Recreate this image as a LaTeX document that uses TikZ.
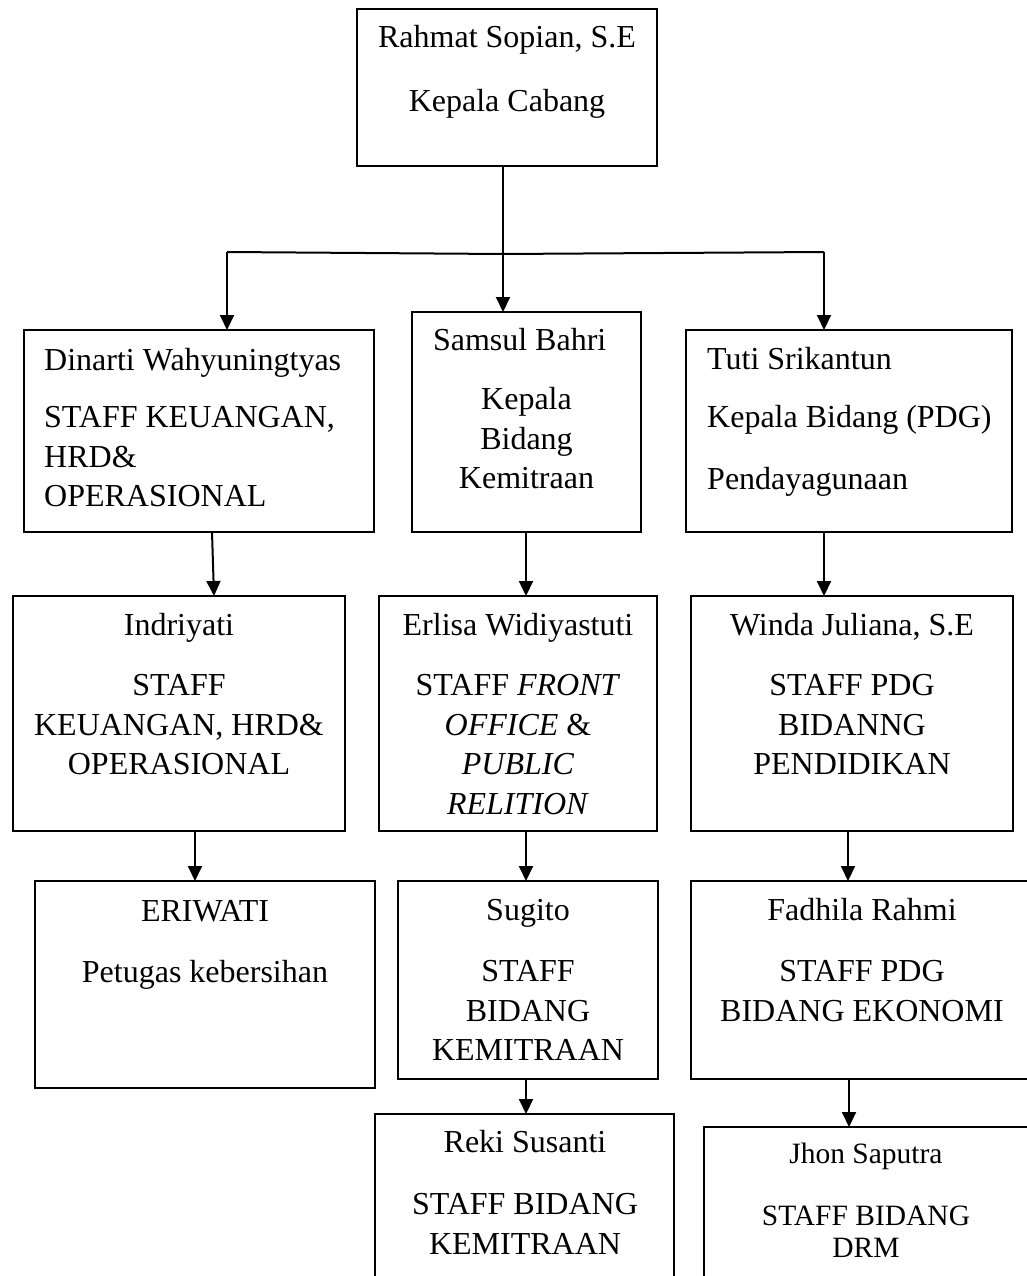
\documentclass[tikz,border=0pt]{standalone}
\usepackage{fontspec}
\setmainfont{Liberation Serif}
\usetikzlibrary{arrows.meta}
\begin{document}
\begin{tikzpicture}[x=1pt,y=-1pt,
  box/.style={draw, line width=2pt, anchor=north west, inner sep=0pt, outer sep=0pt},
  conn/.style={line width=2pt},
  arr/.style={line width=2pt, -{Triangle[length=15pt,width=14pt]}},
  txt/.style={anchor=base, inner sep=0pt, align=flush center, font=\fontsize{32}{39.5}\selectfont},
  txtl/.style={anchor=base west, inner sep=0pt, align=flush left, font=\fontsize{32}{39.5}\selectfont},
  txts/.style={anchor=base, inner sep=0pt, align=flush center, font=\fontsize{29.5}{32}\selectfont},
]
\newcommand\orgbox[5]{\node[box, minimum width={#4-#2}, minimum height={#5-#3}] (#1) at (#2,#3) {};}
\useasboundingbox (0,0) rectangle (1027,1276);
\fill[white] (0,0) rectangle (1027,1276);
\clip (0,0) rectangle (1027,1276);

% boxes
\orgbox{top}{357}{9}{657}{166}
\orgbox{dinarti}{24}{330}{374}{532}
\orgbox{samsul}{412}{312}{641}{532}
\orgbox{tuti}{686}{330}{1012}{532}
\orgbox{indriyati}{13}{596}{345}{831}
\orgbox{erlisa}{379}{596}{657}{831}
\orgbox{winda}{691}{596}{1013}{831}
\orgbox{eriwati}{35}{881}{375}{1088}
\orgbox{sugito}{398}{881}{658}{1079}
\orgbox{fadhila}{691}{881}{1034}{1079}
\orgbox{reki}{375}{1114}{674}{1300}
\orgbox{jhon}{704}{1127}{1034}{1300}

% texts
\node[txt, text width=290pt] (ttop) at (507,48) {Rahmat Sopian, S.E\\[24pt]Kepala Cabang};
\node[txtl, text width=320pt] (tdinarti) at (44,370) {Dinarti Wahyuningtyas\\[18pt]STAFF KEUANGAN,\\HRD\&\\OPERASIONAL};
\node[txt, text width=187pt] (tsamsul) at (526.5,350) {\makebox[187pt][l]{Samsul Bahri}\\[20pt]Kepala\\Bidang\\Kemitraan};
\node[txtl, text width=300pt] (ttuti) at (707,369) {Tuti Srikantun\\[19pt]Kepala Bidang (PDG)\\[22pt]Pendayagunaan};
\node[txt, text width=325pt] (tindriyati) at (179,635) {Indriyati\\[21pt]STAFF\\KEUANGAN, HRD\&\\OPERASIONAL};
\node[txt, text width=270pt] (terlisa) at (518,635) {Erlisa Widiyastuti\\[21pt]STAFF \textit{FRONT}\\\textit{OFFICE} \&\\\textit{PUBLIC}\\\textit{RELITION}};
\node[txt, text width=315pt] (twinda) at (852,635) {Winda Juliana, S.E\\[21pt]STAFF PDG\\BIDANNG\\PENDIDIKAN};
\node[txt, text width=330pt] (teriwati) at (205,921) {ERIWATI\\[22pt]Petugas kebersihan};
\node[txt, text width=255pt] (tsugito) at (528,920) {Sugito\\[22pt]STAFF\\BIDANG\\KEMITRAAN};
\node[txt, text width=330pt] (tfadhila) at (862,920) {Fadhila Rahmi\\[22pt]STAFF PDG\\BIDANG EKONOMI};
\node[txt, text width=290pt] (treki) at (525,1152) {Reki Susanti\\[23pt]STAFF BIDANG\\KEMITRAAN};
\node[txts, text width=310pt] (tjhon) at (866,1163) {Jhon Saputra\\[30pt]STAFF BIDANG\\DRM};

% connectors
\coordinate (J) at (503,254);
\coordinate (L) at (227,252);
\coordinate (R) at (824,252);
\draw[conn] ([xshift=-4pt]top.south) -- (J);
\draw[conn] (L) -- (J) -- (R);
\draw[arr] (J) -- ([xshift=-23.5pt]samsul.north);
\draw[arr] (L) -- ([xshift=28pt]dinarti.north);
\draw[arr] (R) -- ([xshift=-25pt]tuti.north);

\draw[arr] ([xshift=13pt]dinarti.south) -- ([xshift=35pt]indriyati.north);
\draw[arr] ([xshift=-0.5pt]samsul.south) -- ([xshift=8pt]erlisa.north);
\draw[arr] ([xshift=-25pt]tuti.south) -- ([xshift=-28pt]winda.north);

\draw[arr] ([xshift=16pt]indriyati.south) -- ([xshift=-10pt]eriwati.north);
\draw[arr] ([xshift=8pt]erlisa.south) -- ([xshift=-2pt]sugito.north);
\draw[arr] ([xshift=-4pt]winda.south) -- ([xshift=-14.5pt]fadhila.north);

\draw[arr] ([xshift=-2pt]sugito.south) -- ([xshift=1.5pt]reki.north);
\draw[arr] ([xshift=-13.5pt]fadhila.south) -- ([xshift=-20pt]jhon.north);
\end{tikzpicture}
\end{document}
